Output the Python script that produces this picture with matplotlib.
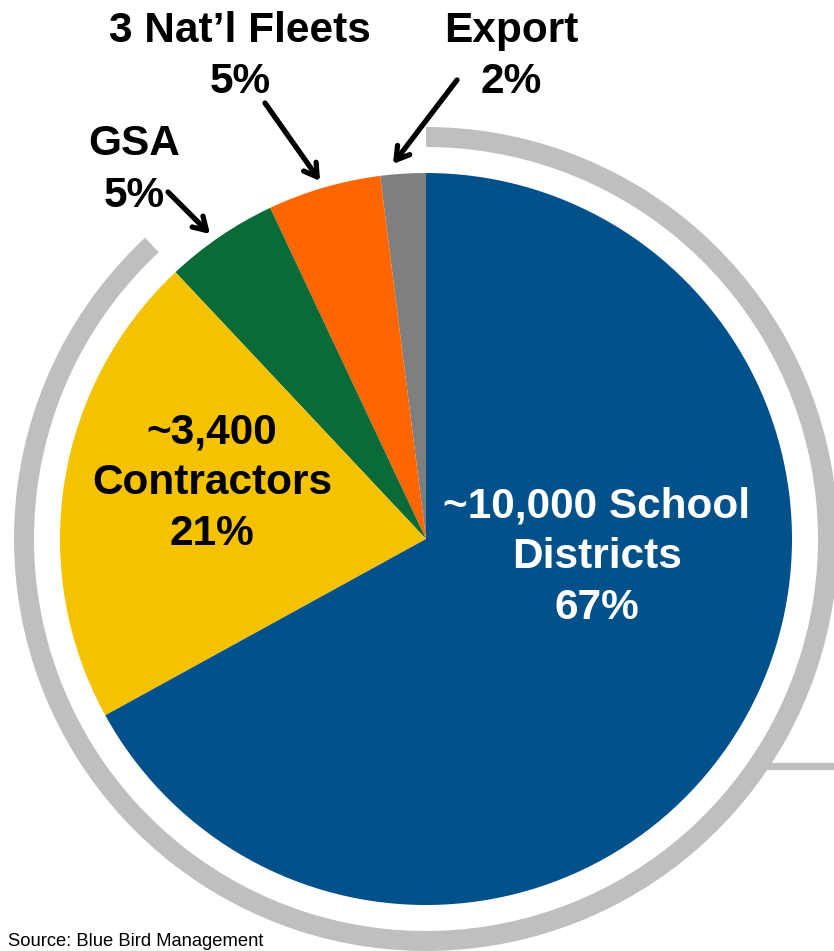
import numpy as np
import matplotlib
matplotlib.use("Agg")
import matplotlib.pyplot as plt
from matplotlib.patches import Wedge

# market share by customer segment (counter-clockwise from 12 o'clock)
segments = ["Export", "3 Nat\u2019l Fleets", "GSA", "~3,400\nContractors", "~10,000 School\nDistricts"]
shares = [2, 5, 5, 21, 67]
colors = ["#7f7f7f", "#ff6600", "#0a6a38", "#f5c200", "#03518b"]
source = "Source: Blue Bird Management"

W, H = 834, 951
fig = plt.figure(figsize=(W / 100, H / 100), dpi=100)
ax = fig.add_axes([0, 0, 1, 1])

def py(y):
    # pixel row (from top) -> data y
    return H - y

cx, cy, r = 426, py(539), 366
font = "Liberation Sans"

ax.pie(shares, colors=colors, startangle=90, counterclock=True,
       center=(cx, cy), radius=r, wedgeprops=dict(linewidth=0),
       frame=True)
ax.set_xlim(0, W)
ax.set_ylim(0, H)
ax.axis("off")

# grey band around the pie, open above the small slices
ring = Wedge((cx, cy), 412, 133, 450, width=20, color="#bfbfbf", lw=0)
ax.add_patch(ring)
ax.plot([766, W], [py(766), py(766)], color="#bfbfbf", lw=5.2, solid_capstyle="butt")

def label(lines, x, y0, pitch, size, color):
    for i, s in enumerate(lines):
        ax.text(x, py(y0 + i * pitch), s, ha="center", va="baseline",
                fontsize=size, fontweight="bold", color=color, family=font)

fs = 30.5
# labels inside the two big slices
label(segments[4].split("\n") + [f"{shares[4]}%"], 597, 517, 51, fs, "white")
label(segments[3].split("\n") + [f"{shares[3]}%"], 212, 443, 51, fs, "black")

# labels for the thin slices, outside with arrows
label([segments[1], f"{shares[1]}%"], 240, 42, 51, fs, "black")
label([segments[0], f"{shares[0]}%"], 511, 42, 51, fs, "black")
label([segments[2], f"{shares[2]}%"], 134, 155, 52, fs, "black")

arrows = [((265, 103), (320, 181)),
          ((457, 80), (393, 164)),
          ((168, 192), (210, 234))]
for (x0, y0), (x1, y1) in arrows:
    ax.annotate("", xy=(x1, py(y1)), xytext=(x0, py(y0)),
                arrowprops=dict(arrowstyle="->,head_length=0.9,head_width=0.55",
                                lw=3.8, color="black", shrinkA=0, shrinkB=0))

ax.text(8, py(946), source, ha="left", va="baseline", fontsize=13.2,
        color="black", family=font)

fig.savefig("out.png", dpi=100)
